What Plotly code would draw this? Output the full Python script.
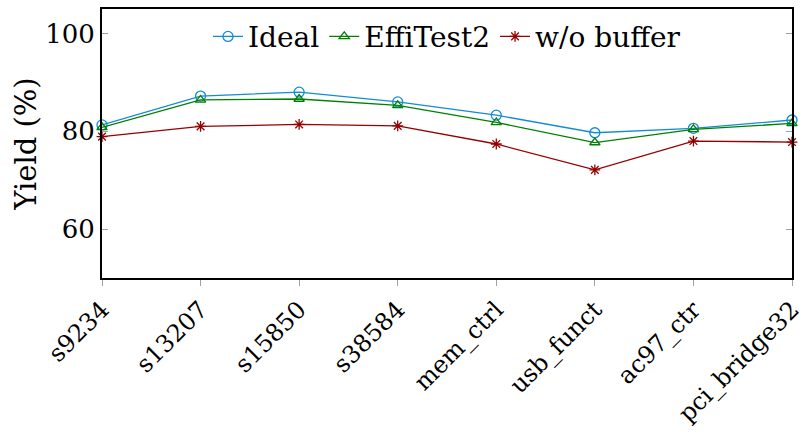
import plotly.graph_objects as go

categories = ["s9234", "s13207", "s15850", "s38584", "mem_ctrl", "usb_funct", "ac97_ctr", "pci_bridge32"]
ideal = [81.3, 87.2, 88.0, 86.0, 83.3, 79.7, 80.6, 82.3]
effitest2 = [80.8, 86.4, 86.6, 85.3, 81.8, 77.7, 80.4, 81.6]
wo_buffer = [78.9, 81.0, 81.4, 81.1, 77.4, 72.1, 78.0, 77.8]
y_ticks = [60, 80, 100]

FONT = "DejaVu Serif"

fig = go.Figure()
series = [
    ("Ideal", ideal, "rgb(20,140,210)", "circle-open", 10),
    ("EffiTest2", effitest2, "rgb(0,128,0)", "triangle-up-open", 9),
    ("w/o buffer", wo_buffer, "rgb(150,0,0)", "asterisk-open", 9),
]
for name, vals, color, sym, size in series:
    fig.add_trace(go.Scatter(
        x=categories, y=vals, name=name, mode="lines+markers",
        line=dict(color=color, width=1.3),
        marker=dict(symbol=sym, size=size, color=color, line=dict(color=color, width=1.3)),
        cliponaxis=False,
    ))

fig.update_layout(
    width=809, height=441,
    margin=dict(l=102, r=17, t=9, b=163),
    plot_bgcolor="white", paper_bgcolor="white",
    font=dict(family=FONT, size=26, color="black"),
    showlegend=True,
    legend=dict(orientation="h", x=0.5, xanchor="center", y=0.99, yanchor="top",
                bgcolor="rgba(0,0,0,0)", font=dict(size=28), itemwidth=30,
                tracegroupgap=0),
)
fig.update_xaxes(
    type="category", range=[0, 7], tickangle=-45, automargin=False,
    showline=True, linecolor="black", linewidth=2, mirror=True,
    ticks="outside", ticklen=6, tickcolor="rgb(160,160,160)", tickwidth=1,
    showgrid=False, zeroline=False, tickfont=dict(size=24),
)
fig.update_yaxes(
    range=[50, 105], tickvals=y_ticks, automargin=False,
    showline=True, linecolor="black", linewidth=2, mirror="ticks",
    ticks="inside", ticklen=6, tickcolor="rgb(160,160,160)", tickwidth=1,
    showgrid=False, zeroline=False, tickfont=dict(size=26),
    title=dict(text="Yield (%)", font=dict(size=29), standoff=0),
)
fig.write_html("out.html")
